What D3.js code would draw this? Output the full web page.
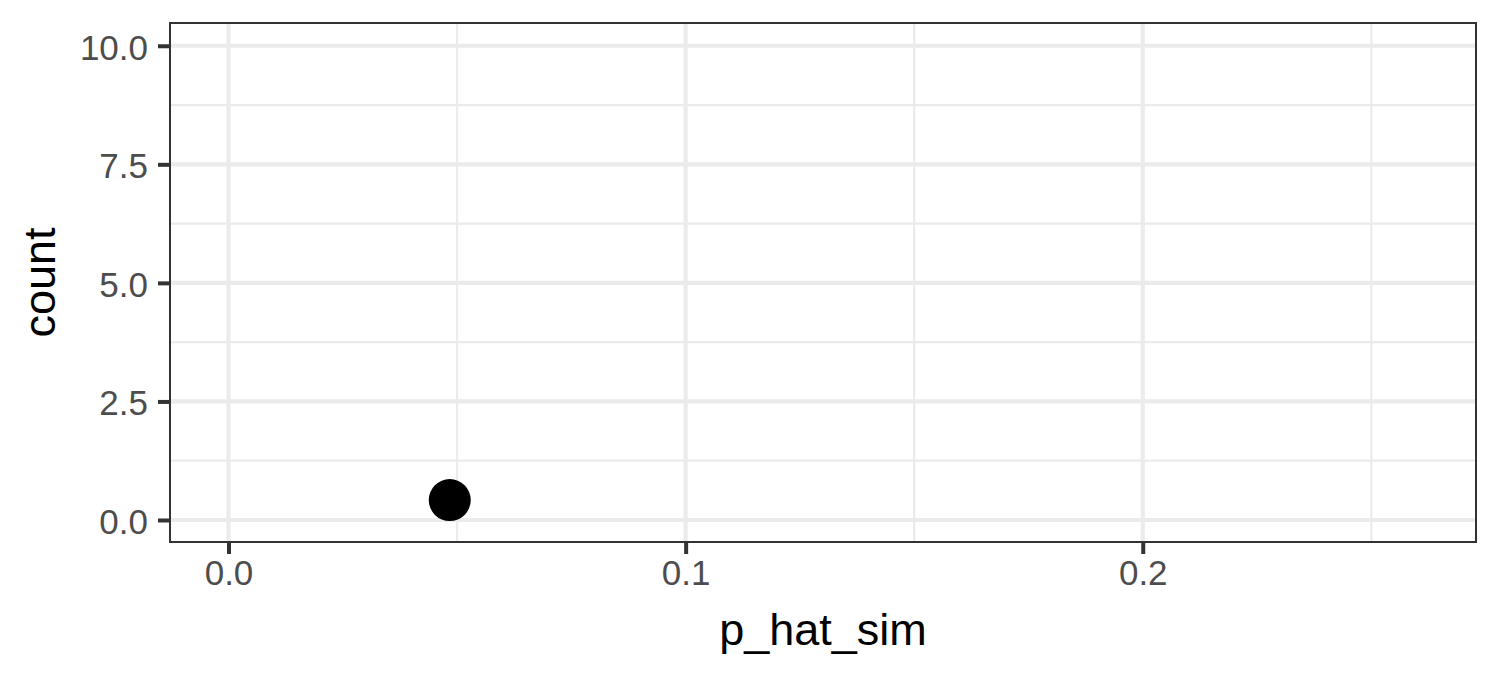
<!DOCTYPE html>
<html>
<head>
<meta charset="utf-8">
<script src="https://cdn.jsdelivr.net/npm/d3@7"></script>
<style>
  body { margin: 0; background: #fff; }
  text { font-family: "Liberation Sans", Arial, sans-serif; }
</style>
</head>
<body>
<div id="chart"></div>
<script>
// data
const pHatSim = [0.0484];
const dotCount = [0.42];
const xTicks = [0.0, 0.1, 0.2];
const xMinor = [0.05, 0.15, 0.25];
const yTicks = [0, 2.5, 5, 7.5, 10];
const yMinor = [1.25, 3.75, 6.25, 8.75];

const width = 1500, height = 675;
const panel = { left: 170, right: 1476, top: 23, bottom: 542 };

const svg = d3.select('#chart').append('svg')
    .attr('width', width)
    .attr('height', height);

const x = d3.scaleLinear()
    .domain([-0.0128, 0.2729])
    .range([panel.left, panel.right]);

const y = d3.scaleLinear()
    .domain([-0.464, 10.48])
    .range([panel.bottom, panel.top]);

const grid = svg.append('g');

// minor grid
grid.selectAll('.xminor').data(xMinor).enter().append('line')
    .attr('x1', d => x(d)).attr('x2', d => x(d))
    .attr('y1', panel.top).attr('y2', panel.bottom)
    .attr('stroke', '#ebebeb').attr('stroke-width', 2.2);
grid.selectAll('.yminor').data(yMinor).enter().append('line')
    .attr('y1', d => y(d)).attr('y2', d => y(d))
    .attr('x1', panel.left).attr('x2', panel.right)
    .attr('stroke', '#ebebeb').attr('stroke-width', 2.2);

// major grid
grid.selectAll('.xmajor').data(xTicks).enter().append('line')
    .attr('x1', d => x(d)).attr('x2', d => x(d))
    .attr('y1', panel.top).attr('y2', panel.bottom)
    .attr('stroke', '#ebebeb').attr('stroke-width', 4.2);
grid.selectAll('.ymajor').data(yTicks).enter().append('line')
    .attr('y1', d => y(d)).attr('y2', d => y(d))
    .attr('x1', panel.left).attr('x2', panel.right)
    .attr('stroke', '#ebebeb').attr('stroke-width', 4.2);

// the dot
svg.selectAll('.dot')
    .data(pHatSim.map((v, i) => ({ x: v, y: dotCount[i] })))
    .enter().append('circle')
    .attr('cx', d => x(d.x))
    .attr('cy', d => y(d.y))
    .attr('r', 21)
    .attr('fill', '#000');

// panel border
svg.append('rect')
    .attr('x', panel.left).attr('y', panel.top)
    .attr('width', panel.right - panel.left)
    .attr('height', panel.bottom - panel.top)
    .attr('fill', 'none')
    .attr('stroke', '#333333')
    .attr('stroke-width', 2);

// axes
const xAxis = svg.append('g')
    .attr('transform', `translate(0,${panel.bottom + 1})`)
    .call(d3.axisBottom(x).tickValues(xTicks).tickFormat(d3.format('.1f'))
        .tickSize(11).tickPadding(6));
const yAxis = svg.append('g')
    .attr('transform', `translate(${panel.left - 1},0)`)
    .call(d3.axisLeft(y).tickValues(yTicks).tickFormat(d3.format('.1f'))
        .tickSize(11).tickPadding(10));

[xAxis, yAxis].forEach(g => {
    g.select('.domain').remove();
    g.selectAll('.tick line').attr('stroke', '#333333').attr('stroke-width', 4);
    g.selectAll('.tick text')
        .attr('fill', '#4d4d4d')
        .style('font-size', '35px')
        .style('font-family', '"Liberation Sans", Arial, sans-serif');
});
yAxis.selectAll('.tick text').attr('dy', '0.38em');

// axis titles
svg.append('text')
    .attr('x', (panel.left + panel.right) / 2)
    .attr('y', 645)
    .attr('text-anchor', 'middle')
    .style('font-size', '45px')
    .text('p_hat_sim');

svg.append('text')
    .attr('transform', `translate(55,${(panel.top + panel.bottom) / 2}) rotate(-90)`)
    .attr('text-anchor', 'middle')
    .style('font-size', '45px')
    .text('count');
</script>
</body>
</html>
